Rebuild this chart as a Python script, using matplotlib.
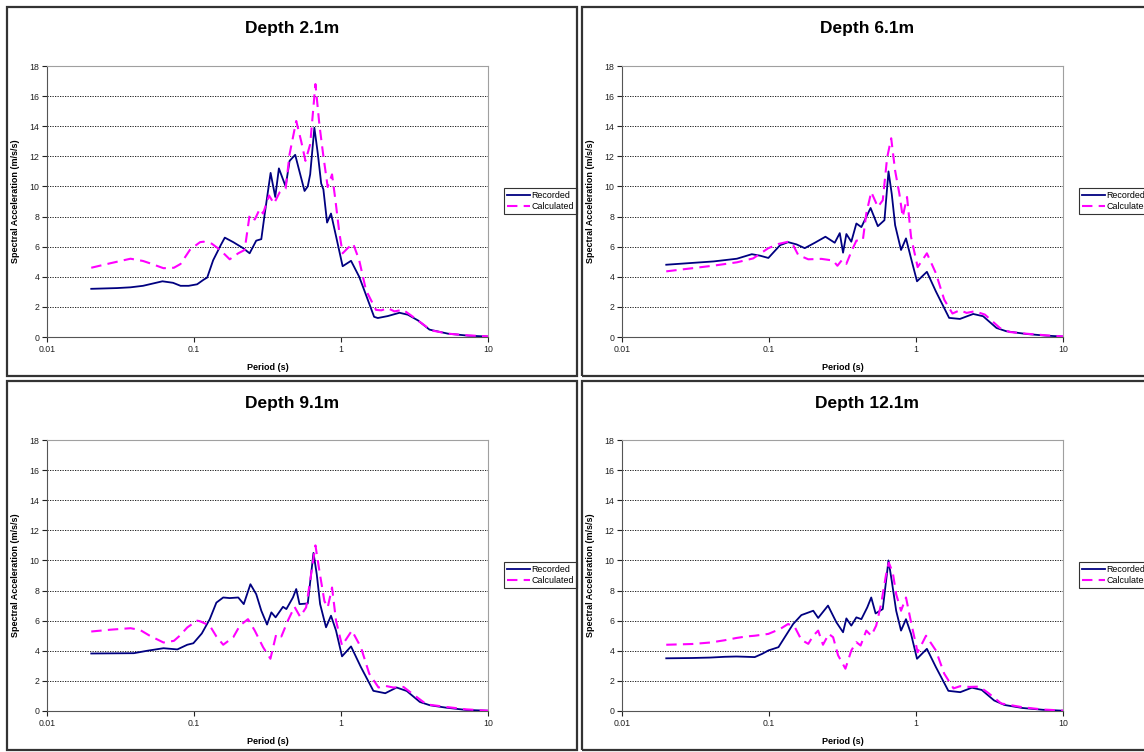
import matplotlib
matplotlib.use("Agg")
import matplotlib.pyplot as plt
from matplotlib.patches import Rectangle
from matplotlib.ticker import FixedLocator, FixedFormatter, NullLocator

plt.rcParams['font.family'] = ['Liberation Sans', 'DejaVu Sans']

# Response spectra, period (s) vs spectral acceleration (m/s/s)
rec_21_T = [0.02, 0.03, 0.037, 0.045, 0.061, 0.072, 0.081, 0.092, 0.105, 0.116, 0.123, 0.135,
            0.152, 0.162, 0.185, 0.216, 0.239, 0.265, 0.287, 0.303, 0.332, 0.357, 0.378, 0.42,
            0.447, 0.488, 0.52, 0.565, 0.594, 0.617, 0.659, 0.695, 0.733, 0.759, 0.804, 0.855,
            0.925, 1.026, 1.17, 1.33, 1.44, 1.68, 1.78, 2.08, 2.5, 2.85, 3.34, 4.0, 5.35, 7.3, 10]
rec_21_sa = [3.2, 3.25, 3.3, 3.4, 3.7, 3.6, 3.4, 3.4, 3.5, 3.8, 3.95, 5.1,
             6.1, 6.6, 6.3, 5.9, 5.56, 6.4, 6.5, 8.2, 10.9, 9.3, 11.2, 10.0,
             11.7, 12.1, 11.05, 9.7, 10.0, 10.8, 13.9, 12.2, 10.2, 9.8, 7.6, 8.2,
             6.7, 4.7, 5.06, 4.0, 3.1, 1.34, 1.26, 1.39, 1.61, 1.48, 1.1, 0.49, 0.22, 0.09, 0.03]
calc_21_T = [0.02, 0.027, 0.037, 0.045, 0.05, 0.062, 0.073, 0.081, 0.094, 0.1, 0.11, 0.116,
             0.132, 0.15, 0.175, 0.2, 0.221, 0.239, 0.259, 0.28, 0.295, 0.324, 0.35, 0.382,
             0.42, 0.447, 0.496, 0.536, 0.573, 0.617, 0.67, 0.713, 0.759, 0.812, 0.869, 0.916,
             0.975, 1.026, 1.11, 1.21, 1.33, 1.48, 1.73, 1.88, 2.08, 2.31, 2.64, 3.0, 3.52,
             4.11, 5.35, 7.3, 10]
calc_21_sa = [4.6, 4.9, 5.2, 5.05, 4.9, 4.57, 4.6, 4.85, 5.8, 6.0, 6.3, 6.33,
              6.2, 5.8, 5.16, 5.56, 5.78, 8.1, 7.8, 8.5, 8.2, 9.4, 8.86, 9.6,
              9.85, 12.15, 14.35, 13.0, 11.7, 12.8, 16.8, 14.1, 12.0, 9.96, 10.8, 9.1,
              6.9, 5.56, 5.9, 6.2, 5.1, 3.1, 1.8, 1.77, 1.92, 1.7, 1.81, 1.43, 0.93,
              0.44, 0.22, 0.11, 0.04]

rec_61_T = [0.02, 0.042, 0.0605, 0.0764, 0.087, 0.099, 0.119, 0.135, 0.154, 0.175, 0.205,
            0.242, 0.28, 0.303, 0.319, 0.336, 0.363, 0.393, 0.425, 0.491, 0.55, 0.61, 0.65,
            0.684, 0.721, 0.791, 0.855, 0.925, 1.016, 1.186, 1.365, 1.68, 1.99, 2.45, 2.86,
            3.53, 4.12, 5.63, 7.7, 10]
rec_61_sa = [4.8, 5.02, 5.2, 5.5, 5.4, 5.25, 6.1, 6.3, 6.15, 5.9, 6.26,
             6.66, 6.26, 6.9, 5.6, 6.84, 6.33, 7.54, 7.3, 8.57, 7.36, 7.76, 11.0,
             9.5, 7.43, 5.78, 6.55, 5.23, 3.7, 4.33, 3.03, 1.27, 1.2, 1.53, 1.38,
             0.6, 0.38, 0.2, 0.09, 0.03]
calc_61_T = [0.02, 0.042, 0.0605, 0.078, 0.089, 0.099, 0.116, 0.135, 0.146, 0.158, 0.185,
             0.227, 0.273, 0.292, 0.314, 0.336, 0.363, 0.393, 0.435, 0.459, 0.496, 0.55,
             0.594, 0.636, 0.678, 0.721, 0.771, 0.812, 0.869, 0.925, 1.026, 1.186, 1.365,
             1.556, 1.77, 1.99, 2.21, 2.51, 2.94, 3.72, 4.35, 5.63, 7.7, 10]
calc_61_sa = [4.36, 4.74, 4.96, 5.22, 5.6, 5.9, 6.18, 6.33, 6.1, 5.45, 5.16,
              5.19, 5.08, 4.73, 5.12, 4.86, 5.67, 6.4, 6.44, 8.2, 9.63, 8.64,
              9.08, 11.9, 13.2, 11.05, 9.5, 7.98, 9.3, 6.66, 4.64, 5.56, 4.24,
              2.48, 1.56, 1.78, 1.6, 1.71, 1.49, 0.6, 0.33, 0.22, 0.11, 0.04]

rec_91_T = [0.02, 0.039, 0.048, 0.062, 0.077, 0.09, 0.099, 0.113, 0.128, 0.142, 0.158, 0.175,
            0.2, 0.218, 0.242, 0.265, 0.287, 0.314, 0.336, 0.359, 0.403, 0.425, 0.471, 0.496,
            0.522, 0.594, 0.65, 0.684, 0.721, 0.791, 0.855, 0.925, 1.016, 1.17, 1.365, 1.66,
            2.0, 2.39, 2.8, 3.44, 4.03, 5.2, 7.1, 10]
rec_91_sa = [3.82, 3.84, 4.0, 4.17, 4.09, 4.4, 4.5, 5.15, 6.1, 7.2, 7.54, 7.5,
             7.54, 7.1, 8.42, 7.76, 6.66, 5.74, 6.55, 6.22, 6.92, 6.77, 7.54, 8.1,
             7.1, 7.14, 10.5, 9.08, 7.1, 5.56, 6.33, 5.34, 3.63, 4.29, 2.92, 1.34,
             1.18, 1.56, 1.33, 0.6, 0.38, 0.22, 0.07, 0.02]
calc_91_T = [0.02, 0.027, 0.037, 0.043, 0.05, 0.062, 0.073, 0.08, 0.09, 0.105, 0.11, 0.128,
             0.142, 0.158, 0.185, 0.205, 0.233, 0.259, 0.295, 0.331, 0.363, 0.393, 0.435,
             0.483, 0.527, 0.579, 0.626, 0.67, 0.713, 0.771, 0.812, 0.869, 0.925, 1.016,
             1.186, 1.365, 1.556, 1.8, 2.0, 2.27, 2.66, 3.1, 3.82, 5.2, 7.1, 10]
calc_91_sa = [5.28, 5.4, 5.5, 5.38, 5.0, 4.55, 4.66, 5.0, 5.55, 6.0, 5.96, 5.67,
              4.95, 4.4, 4.9, 5.67, 6.1, 5.34, 4.24, 3.47, 5.12, 4.95, 6.0,
              6.92, 6.26, 6.88, 9.08, 11.0, 9.3, 7.3, 6.88, 8.2, 6.0, 4.35,
              5.34, 4.24, 2.48, 1.56, 1.67, 1.56, 1.6, 1.1, 0.44, 0.27, 0.11, 0.02]

rec_121_T = [0.02, 0.03, 0.04, 0.05, 0.06, 0.07, 0.08, 0.09, 0.099, 0.116, 0.128, 0.146,
             0.166, 0.2, 0.216, 0.252, 0.287, 0.319, 0.336, 0.363, 0.393, 0.425, 0.466,
             0.496, 0.531, 0.594, 0.65, 0.684, 0.733, 0.791, 0.855, 0.925, 1.016, 1.186,
             1.365, 1.66, 2.0, 2.4, 2.8, 3.4, 4.0, 5.3, 7.3, 10]
rec_121_sa = [3.5, 3.52, 3.55, 3.6, 3.62, 3.6, 3.58, 3.8, 4.02, 4.24, 4.9, 5.78,
              6.37, 6.66, 6.18, 7.0, 5.9, 5.23, 6.15, 5.67, 6.22, 6.1, 6.88,
              7.54, 6.48, 6.77, 10.0, 8.64, 6.66, 5.34, 6.1, 5.12, 3.47, 4.13,
              2.92, 1.34, 1.25, 1.55, 1.4, 0.7, 0.4, 0.2, 0.08, 0.02]
calc_121_T = [0.02, 0.03, 0.04, 0.05, 0.06, 0.07, 0.08, 0.099, 0.119, 0.135, 0.15, 0.166,
              0.185, 0.2, 0.216, 0.233, 0.255, 0.273, 0.295, 0.331, 0.363, 0.393, 0.42,
              0.459, 0.496, 0.536, 0.579, 0.626, 0.653, 0.695, 0.733, 0.791, 0.855, 0.925,
              1.026, 1.17, 1.365, 1.556, 1.8, 2.0, 2.3, 2.7, 3.1, 3.8, 5.3, 7.3, 10]
calc_121_sa = [4.4, 4.45, 4.55, 4.7, 4.85, 4.95, 5.0, 5.12, 5.45, 5.78, 5.56, 4.73,
               4.46, 5.0, 5.34, 4.4, 5.12, 4.9, 3.7, 2.81, 4.02, 4.57, 4.35,
               5.34, 5.0, 5.67, 7.1, 9.08, 9.85, 9.2, 7.76, 6.66, 7.54, 5.9,
               3.9, 5.0, 4.02, 2.48, 1.5, 1.65, 1.6, 1.62, 1.2, 0.5, 0.25, 0.1, 0.03]

titles = ['Depth 2.1m', 'Depth 6.1m', 'Depth 9.1m', 'Depth 12.1m']
series = [(rec_21_T, rec_21_sa, calc_21_T, calc_21_sa),
          (rec_61_T, rec_61_sa, calc_61_T, calc_61_sa),
          (rec_91_T, rec_91_sa, calc_91_T, calc_91_sa),
          (rec_121_T, rec_121_sa, calc_121_T, calc_121_sa)]
x_ticks = [0.01, 0.1, 1, 10]
x_ticklabels = ['0.01', '0.1', '1', '10']
y_ticks = list(range(0, 19, 2))

W, H = 1144, 752
fig = plt.figure(figsize=(W / 100, H / 100), dpi=100)

# panel frames (left, top) in pixels; all panels are 570 x 369
panel_origin = [(7, 7), (582, 7), (7, 381), (582, 381)]
PW, PH = 570, 369

for i, (px, py) in enumerate(panel_origin):
    fig.add_artist(Rectangle((px / W, 1 - (py + PH) / H), PW / W, PH / H,
                             transform=fig.transFigure, fill=False,
                             edgecolor='#333333', lw=1.6))
    fig.text((px + PW / 2) / W, 1 - (py + 22) / H, titles[i], ha='center', va='center',
             fontsize=12.5, fontweight='bold')

    # plot area relative to panel frame
    left, right = px + 40, px + 481
    top, bottom = py + 59, py + 330
    ax = fig.add_axes([left / W, 1 - bottom / H, (right - left) / W, (bottom - top) / H])

    rT, rS, cT, cS = series[i]
    ax.plot(rT, rS, color='#000080', lw=1.3, label='Recorded', zorder=3)
    ax.plot(cT, cS, color='#ff00ff', lw=1.5, dashes=(5, 3), label='Calculated', zorder=3)

    ax.set_xscale('log')
    ax.set_xlim(0.01, 10)
    ax.set_ylim(0, 18)
    ax.xaxis.set_major_locator(FixedLocator(x_ticks))
    ax.xaxis.set_major_formatter(FixedFormatter(x_ticklabels))
    ax.xaxis.set_minor_locator(NullLocator())
    ax.set_yticks(y_ticks)
    for v in y_ticks[1:-1]:
        ax.axhline(v, color='black', lw=0.6, ls=(0, (1.5, 1.5)), zorder=1)

    ax.tick_params(direction='out', length=3.5, width=0.8, labelsize=6.3, colors='#222222',
                   pad=2)
    ax.spines['left'].set_color('#555555')
    ax.spines['bottom'].set_color('#555555')
    ax.spines['top'].set_color('#a0a0a0')
    ax.spines['right'].set_color('#a0a0a0')

    ax.set_xlabel('Period (s)', fontsize=6.5, fontweight='bold')
    ax.set_ylabel('Spectral Acceleration (m/s/s)', fontsize=6.5, fontweight='bold')
    ax.xaxis.set_label_coords(0.5, -26 / 271)
    ax.yaxis.set_label_coords(-27 / 441, 0.5)

    leg = ax.legend(loc='center left', bbox_to_anchor=((px + 497) / W, 1 - (py + 194) / H),
                    bbox_transform=fig.transFigure, borderaxespad=0, fontsize=6.4,
                    handlelength=2.6, handletextpad=0.15, fancybox=False, framealpha=1,
                    edgecolor='#333333', borderpad=0.35, labelspacing=0.3)
    leg.get_frame().set_linewidth(0.8)

fig.savefig('out.png', dpi=100)
